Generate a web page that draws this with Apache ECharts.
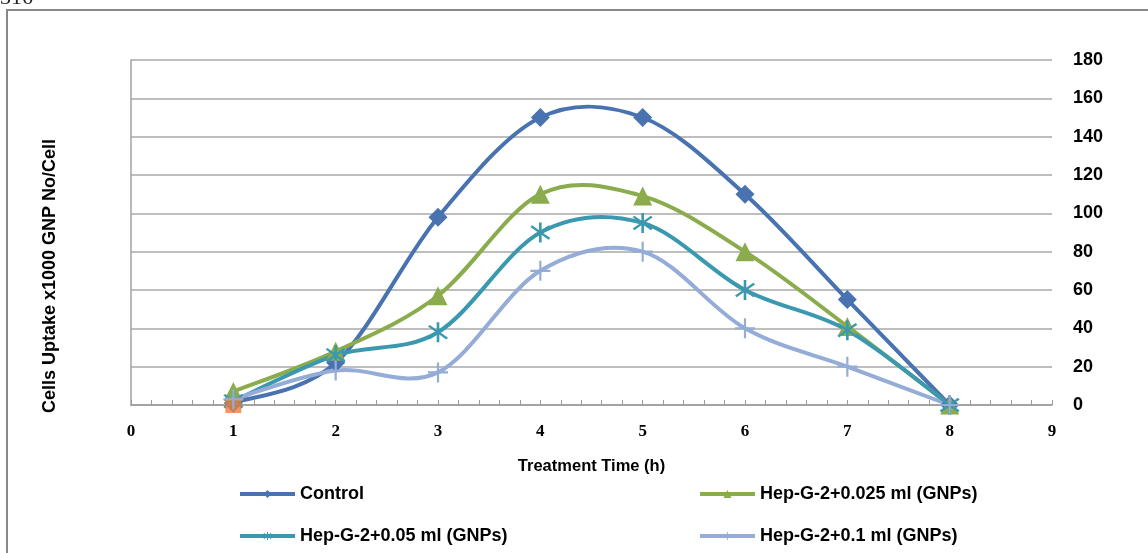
<!DOCTYPE html>
<html>
<head>
<meta charset="utf-8">
<script src="https://cdn.jsdelivr.net/npm/echarts@6/dist/echarts.min.js"></script>
<style>
  html, body { margin: 0; padding: 0; background: #fff; }
  #chart { width: 1148px; height: 553px; }
</style>
</head>
<body>
<div id="chart"></div>
<script>
// treatment time (h)
const hours = [1, 2, 3, 4, 5, 6, 7, 8];
const control = [1, 22, 98, 150, 150, 110, 55, 0];
const hep025 = [7, 28, 57, 110, 109, 80, 41, 0];
const hep05 = [2, 26, 38, 90, 95, 60, 39, 0];
const hep01 = [3, 18, 17, 70, 80, 40, 20, 0];
const extraPoint = [[1, 0]]; // orange square at t=1
const yTicks = [0, 180, 20];

// build a star shaped path out of thin bars (for the asterisk / plus markers)
function barsPath(angles, len, w) {
  let d = "";
  angles.forEach(a => {
    const r = a * Math.PI / 180;
    const c = Math.cos(r), s = Math.sin(r);
    const pts = [[-len, -w], [len, -w], [len, w], [-len, w]].map(p => [
      (p[0] * c - p[1] * s).toFixed(2), (p[0] * s + p[1] * c).toFixed(2)
    ]);
    d += "M" + pts.map(p => p.join(" ")).join(" L") + " Z ";
  });
  return "path://" + d;
}
const starSymbol = barsPath([90, 40, 140], 10, 1.1);
const plusSymbol = barsPath([90, 0], 10, 1.1);

const colors = {
  control: "#4872b0",
  hep025: "#8aac4c",
  hep05: "#3a99ae",
  hep01: "#94acd6"
};

const chart = echarts.init(document.getElementById("chart"));

// markers + legend entry (the curve itself is drawn by the custom series below)
const markerSeries = (name, data, color, symbol, size, z) => ({
  name: name,
  type: "line",
  data: hours.map((h, i) => [h, data[i]]),
  symbol: symbol,
  symbolSize: size,
  showSymbol: true,
  lineStyle: { color: color, width: 4, opacity: 0 },
  itemStyle: { color: color },
  z: z
});

// Excel-like smoothed curve (cardinal spline through the data points, via the axis scales)
const curveSeries = (data, color) => ({
  type: "custom",
  silent: true,
  data: [[hours[0], data[0]]],
  z: 2,
  renderItem: (params, api) => {
    const p = hours.map((h, i) => api.coord([h, data[i]]));
    let d = "M" + p[0][0] + " " + p[0][1];
    for (let i = 0; i < p.length - 1; i++) {
      const p0 = p[Math.max(i - 1, 0)], p1 = p[i], p2 = p[i + 1], p3 = p[Math.min(i + 2, p.length - 1)];
      const c1 = [p1[0] + (p2[0] - p0[0]) / 6, p1[1] + (p2[1] - p0[1]) / 6];
      const c2 = [p2[0] - (p3[0] - p1[0]) / 6, p2[1] - (p3[1] - p1[1]) / 6];
      d += " C" + c1.join(" ") + " " + c2.join(" ") + " " + p2.join(" ");
    }
    return {
      type: "path",
      shape: { pathData: d },
      style: { fill: "none", stroke: color, lineWidth: 4, lineJoin: "round" }
    };
  }
});

const legendCommon = {
  orient: "vertical",
  top: 479,
  itemWidth: 55,
  itemHeight: 10,
  itemGap: 22,
  lineStyle: { opacity: 1, width: 4 },
  textStyle: { color: "#000", fontWeight: "bold", fontSize: 18, lineHeight: 20, fontFamily: "Liberation Sans" }
};

chart.setOption({
  animation: false,
  textStyle: { fontFamily: "Liberation Sans" },
  grid: { left: 131, right: 96, top: 60, bottom: 148 },
  xAxis: {
    type: "value",
    min: 0,
    max: 9,
    interval: 1,
    axisLine: { show: true, onZero: false, lineStyle: { color: "#9a9a9a", width: 1.5 } },
    axisTick: { show: true, inside: true, length: 5, lineStyle: { color: "#9a9a9a" } },
    minorTick: { show: true, splitNumber: 5, length: 5, lineStyle: { color: "#9a9a9a" } },
    splitLine: { show: false },
    axisLabel: {
      margin: 18,
      color: "#000",
      fontFamily: "Liberation Serif",
      fontWeight: "bold",
      fontSize: 17
    },
    name: "Treatment Time (h)",
    nameLocation: "middle",
    nameGap: 53,
    nameTextStyle: { color: "#000", fontWeight: "bold", fontSize: 16.5, fontFamily: "Liberation Sans" }
  },
  yAxis: {
    type: "value",
    position: "right",
    min: yTicks[0],
    max: yTicks[1],
    interval: yTicks[2],
    axisLine: { show: true, lineStyle: { color: "#a0a0a0", width: 1.5 } },
    axisTick: { show: false },
    splitLine: { show: true, lineStyle: { color: "#a8a8a8", width: 1.5 } },
    axisLabel: {
      margin: 21,
      color: "#000",
      fontWeight: "bold",
      fontSize: 18,
      fontFamily: "Liberation Sans"
    }
  },
  legend: [
    Object.assign({}, legendCommon, { data: ["Control", "Hep-G-2+0.05 ml (GNPs)"], left: 233 }),
    Object.assign({}, legendCommon, { data: ["Hep-G-2+0.025 ml (GNPs)", "Hep-G-2+0.1 ml (GNPs)"], left: 693 })
  ],
  series: [
    curveSeries(control, colors.control),
    curveSeries(hep025, colors.hep025),
    curveSeries(hep05, colors.hep05),
    curveSeries(hep01, colors.hep01),
    markerSeries("Control", control, colors.control, "diamond", 19, 3),
    markerSeries("Hep-G-2+0.025 ml (GNPs)", hep025, colors.hep025, "triangle", 19, 3),
    markerSeries("Hep-G-2+0.05 ml (GNPs)", hep05, colors.hep05, starSymbol, 20, 3),
    {
      name: "extra",
      type: "scatter",
      data: extraPoint,
      symbol: "rect",
      symbolSize: 16,
      itemStyle: { color: "#e5803c" },
      z: 4
    },
    markerSeries("Hep-G-2+0.1 ml (GNPs)", hep01, colors.hep01, plusSymbol, 20, 5)
  ],
  graphic: [
    {
      type: "rect",
      shape: { x: 7, y: 10, width: 1170, height: 600 },
      style: { fill: "none", stroke: "#888", lineWidth: 2 }
    },
    {
      type: "text",
      left: 0,
      top: -13,
      style: { text: "316", fontFamily: "Liberation Serif", fontSize: 22, fill: "#222" }
    },
    {
      type: "text",
      x: 50,
      y: 276,
      rotation: Math.PI / 2,
      style: {
        text: "Cells Uptake x1000 GNP No/Cell",
        fontFamily: "Liberation Sans",
        fontWeight: "bold",
        fontSize: 18,
        fill: "#000",
        align: "center",
        verticalAlign: "middle"
      }
    }
  ]
});
</script>
</body>
</html>
